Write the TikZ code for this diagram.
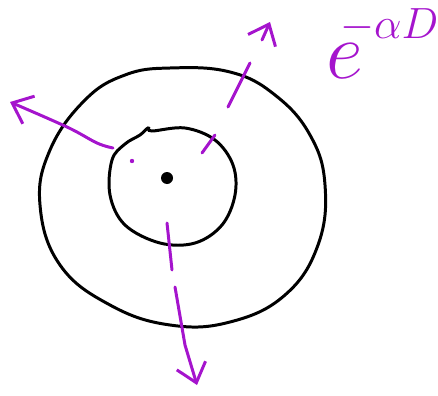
\documentclass[tikz,border=0pt]{standalone}
\usepackage{graphicx}
\usepackage{amsmath}
\usepackage{amssymb}
\usetikzlibrary{positioning, arrows.meta}

\definecolor{inkpurple}{RGB}{165,20,205}

\tikzset{
  ring/.style={line width=1.7pt, black, line cap=round},
  ray/.style={line width=1.7pt, inkpurple, line cap=round, line join=round},
  rayhead/.style={-{Straight Barb[length=3.6mm, width=6mm, line width=1.7pt]}}
}

\begin{document}
\begin{tikzpicture}[x=0.02cm, y=-0.02cm]
\useasboundingbox (0,0) rectangle (438,395);

% shells
\draw[ring] plot[smooth cycle, tension=0.7] coordinates {
  (170,68) (230,72) (275,95) (310,135) (325,185) (318,245) (285,295)
  (230,322) (170,325) (110,305) (60,265) (40,205) (50,150) (85,100) (125,75)};
\draw[ring] plot[smooth cycle, tension=0.6] coordinates {
  (140,135) (148,128) (152,131) (185,128) (215,140) (233,165) (235,195)
  (222,225) (195,243) (160,243) (125,225) (110,195) (112,160) (125,144)};

% source
\node[circle, fill=black, inner sep=0pt, minimum size=0.24cm] (source) at (167,178) {};

% rays
\coordinate (leftstart) at (113,148);
\coordinate (lefttip) at (10,102);
\draw[ray, rayhead] plot[smooth, tension=0.6] coordinates {(leftstart) (97,143) (67,127) (lefttip)};
\fill[inkpurple] (132,161) circle (2.2);

\coordinate (upa) at (202,153);
\coordinate (upb) at (215,135);
\coordinate (upc) at (228,107);
\coordinate (upd) at (250,63);
\coordinate (upe) at (262,40);
\coordinate (uptip) at (270,22);
\draw[ray] (upa) -- (upb);
\draw[ray] (upc) -- (upd);
\draw[ray, rayhead] (upe) -- (uptip);

\coordinate (downa) at (167,223);
\coordinate (downb) at (172,270);
\coordinate (downc) at (175,287);
\coordinate (downtip) at (197,385);
\draw[ray] (downa) -- (downb);
\draw[ray, rayhead] (downc) -- (185,345) -- (downtip);

% attenuation
\node[inkpurple, anchor=base west, inner sep=0pt] (decay) at (326,78)
  {\scalebox{1.85}{\fontsize{24.88}{24.88}\selectfont $e$}\kern-0.46cm%
   \raisebox{0.8cm}{\fontsize{23}{23}\selectfont $-\alpha D$}};
\end{tikzpicture}
\end{document}
